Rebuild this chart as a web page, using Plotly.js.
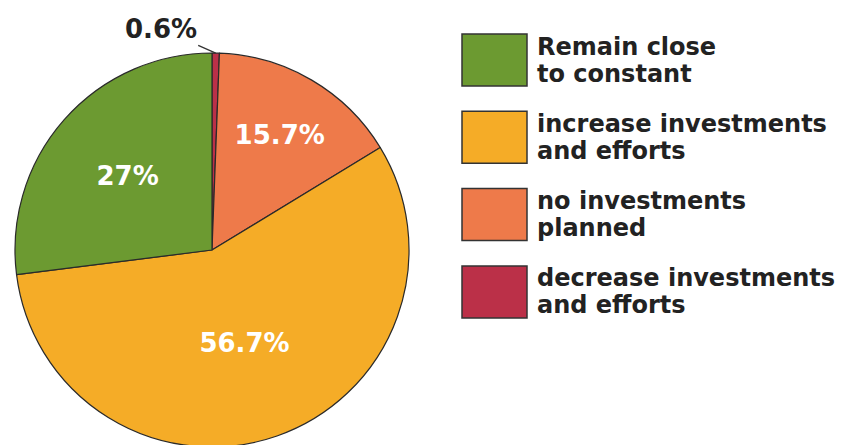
<!DOCTYPE html>
<html>
<head>
<meta charset="utf-8">
<script src="https://cdn.plot.ly/plotly-3.0.1.min.js"></script>
<style>
html,body{margin:0;padding:0;background:#fff;overflow:hidden;}
#chart{width:842px;height:447px;}
</style>
</head>
<body>
<div id="chart"></div>
<script>
// Slices in drawing order (clockwise from 12 o'clock)
const sliceLabels = ["decrease investments and efforts", "no investments planned", "increase investments and efforts", "Remain close to constant"];
const sliceValues = [0.6, 15.7, 56.7, 27];
const sliceText = ["0.6%", "15.7%", "56.7%", "27%"];
const sliceColors = ["#bb3048", "#ee7a4a", "#f5ac27", "#6c9a31"];

// Legend order (top to bottom), each entry two lines
const legendLines = [["Remain close", "to constant"], ["increase investments", "and efforts"], ["no investments", "planned"], ["decrease investments", "and efforts"]];
const legendColors = ["#6c9a31", "#f5ac27", "#ee7a4a", "#bb3048"];

const W = 842, H = 447;
const FONT = "'DejaVu Sans', sans-serif";

// pie geometry (pixels)
const pieL = 15, pieR = 409, pieTop = 53;
const cx = (pieL + pieR) / 2, rad = (pieR - pieL) / 2;

const trace = {
  type: "pie",
  labels: sliceLabels,
  values: sliceValues,
  text: sliceText,
  textinfo: "text",
  sort: false,
  direction: "clockwise",
  rotation: 0,
  marker: {colors: sliceColors, line: {color: "#2a2a2a", width: 1.2}},
  textposition: ["none", "inside", "inside", "inside"],
  insidetextorientation: "horizontal",
  insidetextfont: {family: FONT, size: 26, color: "#ffffff", weight: "bold"},
  domain: {x: [pieL/W, pieR/W], y: [0, (H-pieTop)/H]},
  showlegend: false,
  hoverinfo: "label+percent"
};

const shapes = [];
const annotations = [];

// outside label for the tiny first slice, with a leader line to its arc
const total = sliceValues.reduce((a, b) => a + b, 0);
const midAng = (sliceValues[0] / 2) / total * 2 * Math.PI;
const px = cx + rad * Math.sin(midAng), py = pieTop + rad * (1 - Math.cos(midAng));
annotations.push({xref: "paper", yref: "paper", x: px / W, y: 1 - py / H,
  text: sliceText[0], showarrow: true, arrowhead: 0, arrowwidth: 1.3, arrowcolor: "#333333",
  ax: -55, ay: -24, standoff: 0,
  font: {family: FONT, size: 26, color: "#222222", weight: "bold"}});

const boxTop = 34, boxH = 52, step = 77.3;
legendLines.forEach((lines, i) => {
  const y0 = boxTop + i*step, y1 = y0 + boxH, ym = (y0 + y1) / 2;
  shapes.push({type: "rect", xref: "paper", yref: "paper",
    x0: 462/W, x1: 527/W, y0: 1 - y1/H, y1: 1 - y0/H,
    fillcolor: legendColors[i], line: {color: "#333333", width: 1.5}});
  lines.forEach((ln, j) => {
    annotations.push({xref: "paper", yref: "paper", x: 535/W, y: 1 - (ym - 13.5 + 27*j)/H,
      xanchor: "left", yanchor: "middle", align: "left", showarrow: false,
      text: ln, font: {family: FONT, size: 24, color: "#222222", weight: "bold"}});
  });
});

const layout = {
  width: W, height: H,
  margin: {l: 0, r: 0, t: 0, b: 0, pad: 0},
  paper_bgcolor: "#ffffff",
  showlegend: false,
  shapes: shapes,
  annotations: annotations
};

Plotly.newPlot("chart", [trace], layout, {displayModeBar: false, staticPlot: true});
</script>
</body>
</html>
